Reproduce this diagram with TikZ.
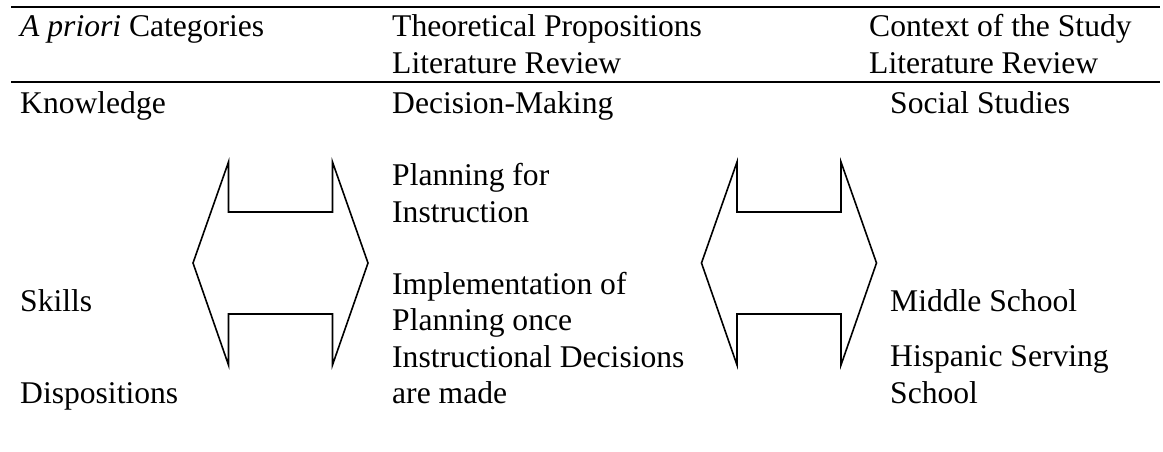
\documentclass[tikz,border=0pt]{standalone}
\usepackage{fontspec}
\setmainfont{Liberation Serif}
\tikzset{
  % multi-line cells are placed by the baseline of their last line
  cell/.style={anchor=base west, inner sep=0pt, align=left,
    font=\fontsize{31.6}{36.3}\selectfont},
  rule/.style={line width=1.3pt},
  arrowline/.style={line width=1.6pt, line join=miter},
  % hollow two-headed arrow, centred on the pic origin
  twoway/.pic={
    \draw[arrowline] (-87.5,0) -- (-52,-101) -- (-52,-51) -- (52,-51)
      -- (52,-101) -- (87.5,0) -- (52,102) -- (52,51) -- (-52,51)
      -- (-52,102) -- cycle;
  }
}
\begin{document}
\begin{tikzpicture}[x=1pt,y=-1pt]
\useasboundingbox (0,0) rectangle (1163,451);

% table rules
\coordinate (topL) at (11,7);
\coordinate (topR) at (1160,7);
\coordinate (midL) at (11,82);
\coordinate (midR) at (1160,82);
\draw[rule] (topL) -- (topR);
\draw[rule] (midL) -- (midR);

% column heads
\node[cell] (headA) at (20,36.7) {\textit{A priori} Categories};
\node[cell] (headB) at (392,73) {Theoretical Propositions\\Literature Review};
\node[cell] (headC) at (869,73) {Context of the Study\\Literature Review};

% first column
\node[cell] (know) at (20,113) {Knowledge};
\node[cell] (skills) at (20,311) {Skills};
\node[cell] (disp) at (20,403) {Dispositions};

% second column
\node[cell] (dec) at (392,113) {Decision-Making};
\node[cell] (plan) at (392,222) {Planning for\\Instruction};
\node[cell] (impl) at (392,403.4) {Implementation of\\Planning once\\Instructional Decisions\\are made};

% third column
\node[cell] (soc) at (890,113) {Social Studies};
\node[cell] (mid) at (890,311) {Middle School};
\node[cell] (hisp) at (890,403) {Hispanic Serving\\School};

% two-way arrows between the columns
\pic (arrowAB) at (280.5,263) {twoway};
\pic (arrowBC) at (789,263) {twoway};
\end{tikzpicture}
\end{document}
